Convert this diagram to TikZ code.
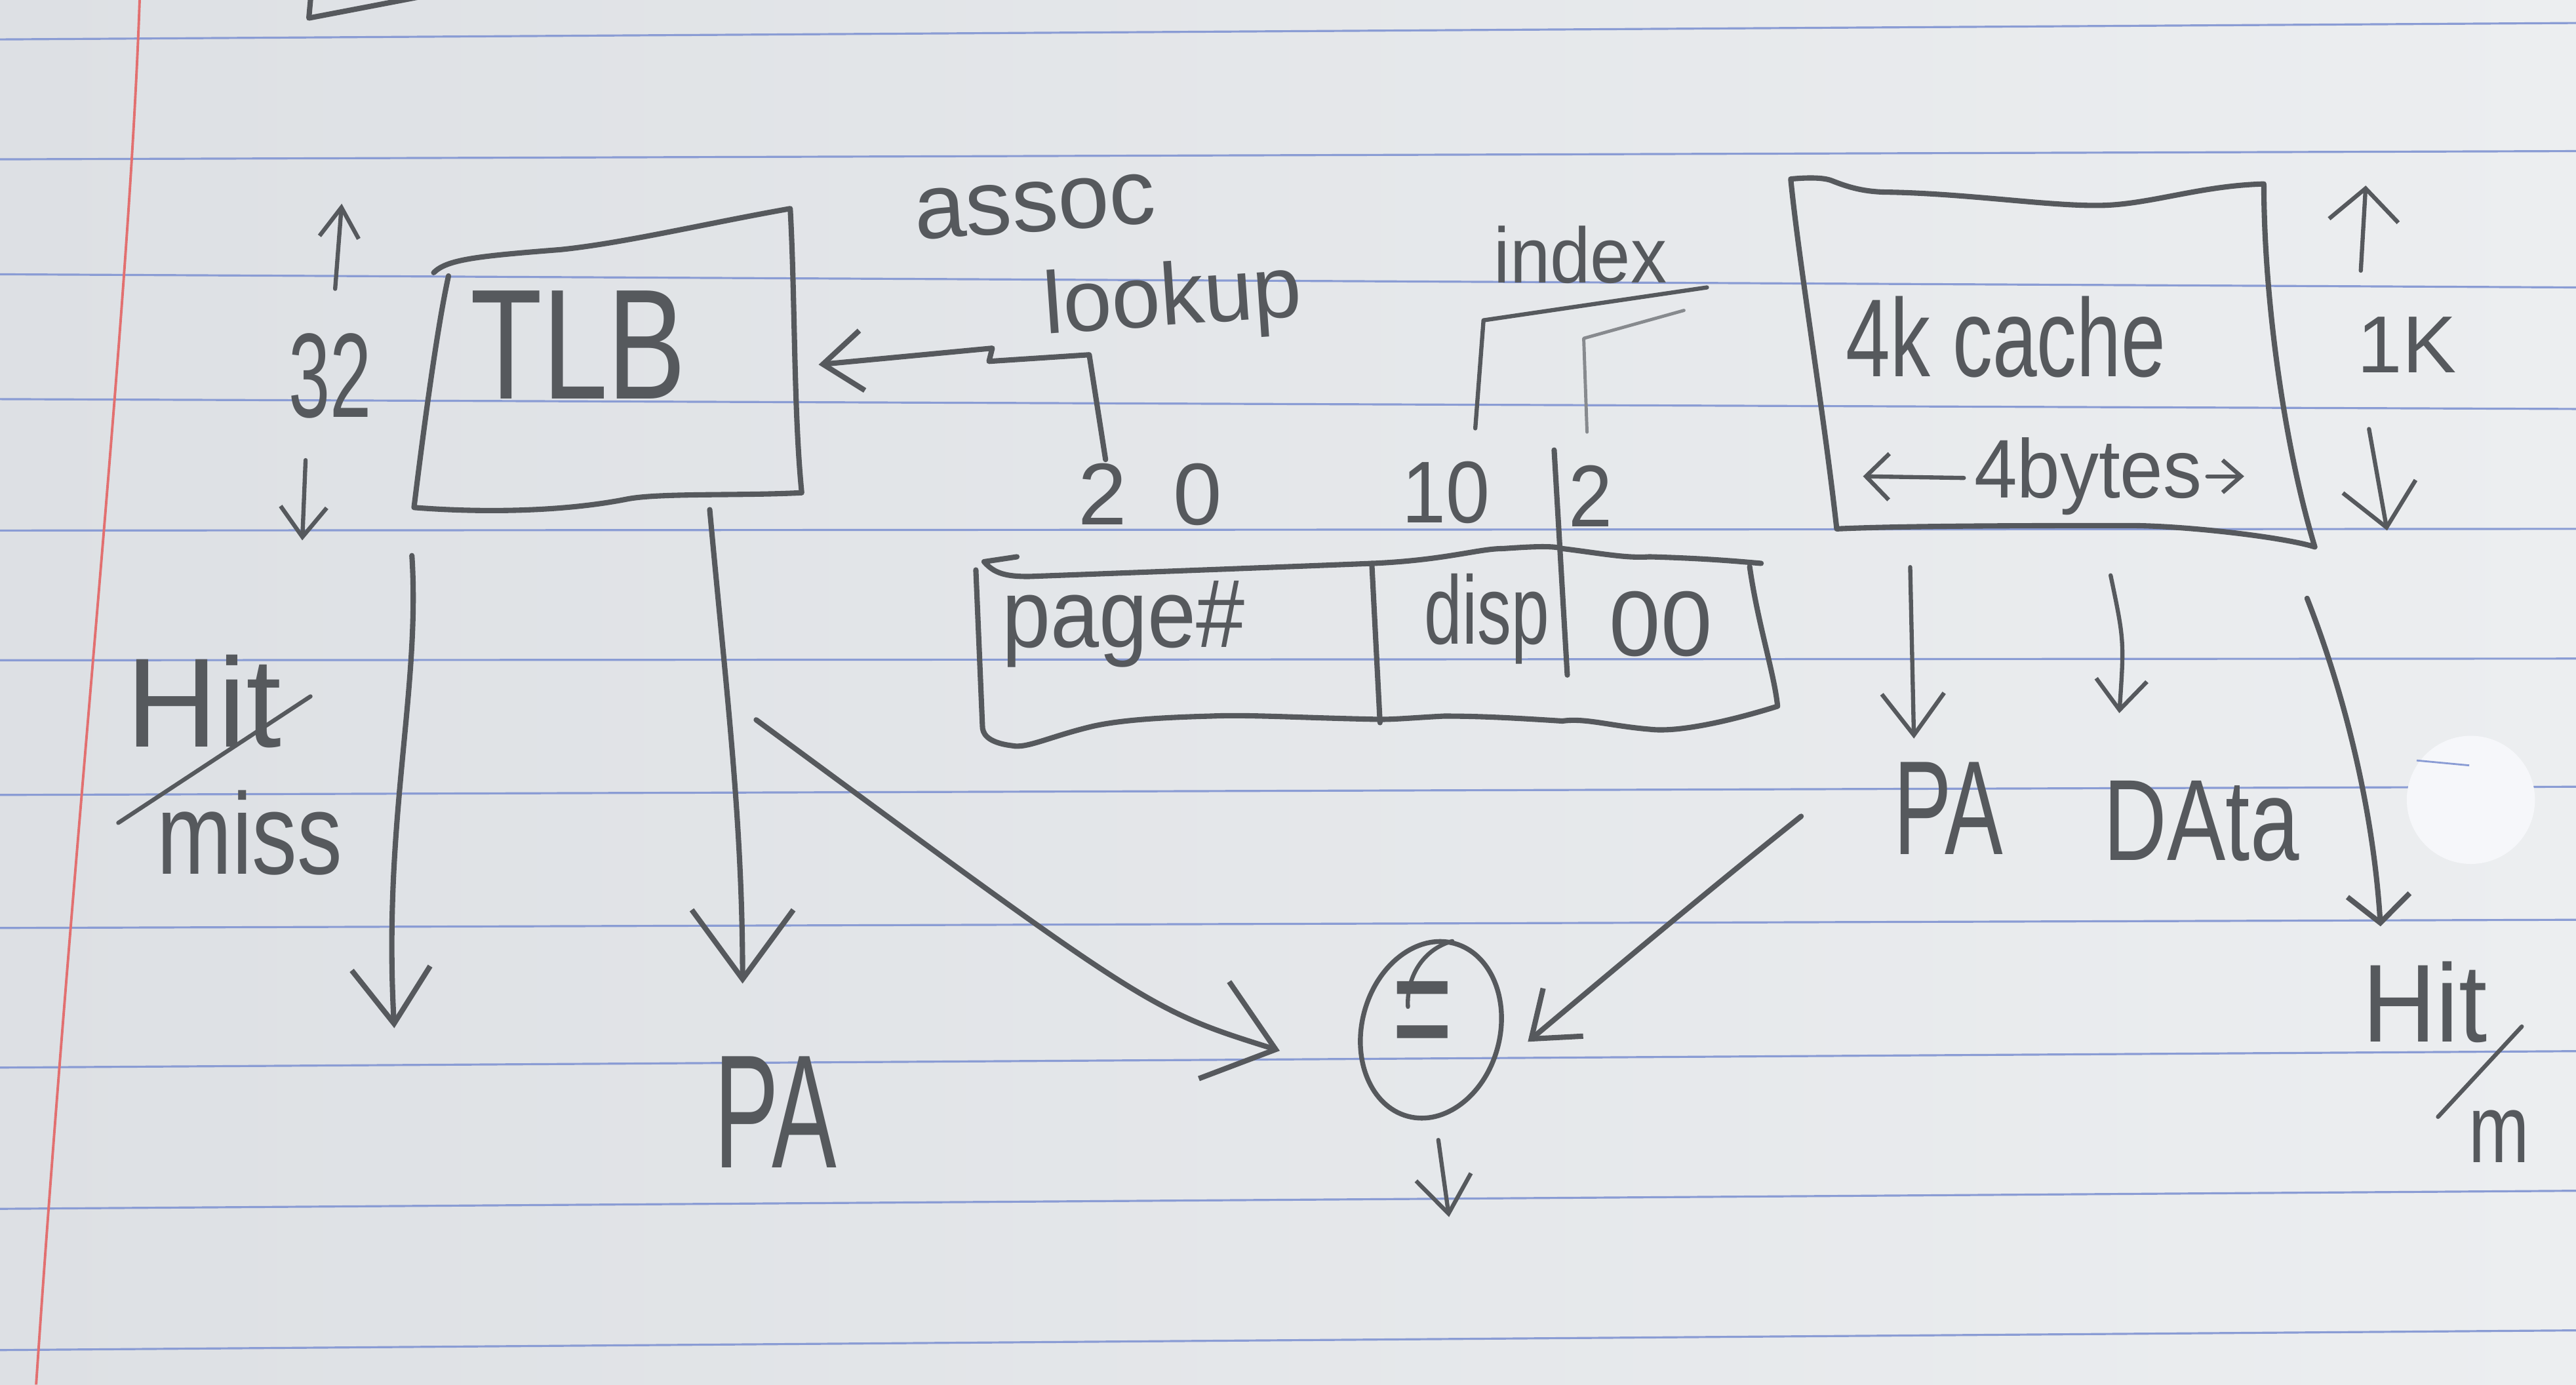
\documentclass[tikz,border=0pt]{standalone}
\usepackage{fontspec}
\setmainfont{Liberation Sans}
\usepackage{graphicx}
\usetikzlibrary{arrows.meta,shapes.geometric,calc}
\definecolor{paperL}{RGB}{221,224,228}
\definecolor{paperR}{RGB}{236,238,240}
\definecolor{rulec}{RGB}{138,156,212}
\definecolor{marginc}{RGB}{226,112,112}
\definecolor{pencil}{RGB}{86,89,93}
\definecolor{pencilL}{RGB}{135,138,142}
\definecolor{holec}{RGB}{246,247,250}
\newcommand{\hw}[3]{\scalebox{#1}[1]{\fontsize{#2}{#2}\selectfont #3}}
\begin{document}
\begin{tikzpicture}[x=0.25mm,y=-0.25mm,
  pen/.style={draw=pencil,line width=2.3pt,line cap=round,line join=round},
  thinpen/.style={draw=pencil,line width=1.8pt,line cap=round,line join=round},
  faintpen/.style={draw=pencilL,line width=1.4pt,line cap=round,line join=round},
  V/.style 2 args={-{Straight Barb[length=#1,width=#2]}},
  lbl/.style={text=pencil,inner sep=0pt},
  ruled/.style={draw=rulec,line width=0.9pt},
  area/.style 2 args={inner sep=0pt,minimum width=#1,minimum height=#2}]
\useasboundingbox (0,0) rectangle (1568,843);
% paper
\shade[left color=paperL,right color=paperR] (0,0) rectangle (1568,843);
\foreach \a/\b in {24/14,97/92,167/175,243/249,323/322,402/401,484/479,565/560,650/640,736/725,822/810}
  \draw[ruled] (0,\a) -- (1568,\b);
\draw[draw=marginc,line width=1.1pt] (85,0) .. controls (78,200) and (45,500) .. (22,843);
\fill[holec] (1504,487) circle[radius=39];
\draw[rulec,line width=0.8pt] (1471,463) -- (1503,466);
\draw[pen] (189,0) -- (188,11) -- (256,-2);

% ---------- TLB ----------
\node[area={57mm}{44mm}] (tlb) at (370,217) {};
\draw[pen] (264,166) .. controls (272,158) and (290,156) .. (341,152)
  .. controls (380,148) and (430,136) .. (481,127)
  .. controls (484,180) and (483,250) .. (488,300)
  .. controls (450,302) and (400,300) .. (381,304)
  .. controls (340,312) and (290,312) .. (252,309)
  .. controls (258,260) and (266,200) .. (273,168);
\node[lbl] (tlblabel) at (352,210) {\hw{0.75}{68pt}{TLB}};
\node[lbl] (n32) at (201,229) {\hw{0.62}{52pt}{32}};
\coordinate (up32) at (208,124);
\coordinate (dn32) at (184,329);
\draw[thinpen,V={13pt}{17pt}] ($(n32.north)+(3,-27)$) -- (up32);
\draw[thinpen,V={13pt}{20pt}] ($(n32.south)+(-15,25)$) -- (dn32);

% ---------- address ----------
\node[lbl,rotate=4] (assoc) at (630,126) {\fontsize{40pt}{40pt}\selectfont assoc};
\node[lbl,rotate=4] (lookup) at (714,184) {\hw{1}{38pt}{lookup}};
\node[lbl] (n20) at (700,301) {\hw{1}{38pt}{2\hspace{20pt}0}};
\node[lbl] (n10) at (880,300) {\hw{0.9}{38pt}{10}};
\node[lbl] (n2) at (968,302) {\hw{0.9}{38pt}{2}};
\node[lbl] (index) at (962,155) {\hw{0.92}{34pt}{index}};
\draw[pen] (619,339) -- (599,342) .. controls (605,349) and (612,351) .. (626,351)
  .. controls (680,349) and (760,346) .. (836,343)
  .. controls (880,341) and (900,334) .. (915,334)
  .. controls (930,333) and (945,332) .. (951,334)
  .. controls (975,337) and (990,340) .. (1004,339)
  .. controls (1040,340) and (1060,342) .. (1072,343);
\draw[pen] (1065,345) .. controls (1070,380) and (1080,410) .. (1082,430)
  .. controls (1050,440) and (1020,446) .. (1004,444)
  .. controls (980,442) and (965,437) .. (951,439)
  .. controls (920,437) and (900,436) .. (879,436)
  .. controls (860,437) and (850,438) .. (840,438)
  .. controls (790,437) and (760,435) .. (737,436)
  .. controls (700,437) and (680,439) .. (666,442)
  .. controls (640,448) and (625,456) .. (616,454)
  .. controls (600,452) and (598,446) .. (598,442) -- (594,347);
\draw[pen] (835,343) -- (840,440);
\draw[pen] (946,274) -- (954,411);
\node[lbl] (page) at (684,380) {\hw{0.9}{42pt}{page\#}};
\node[lbl] (disp) at (905,377) {\hw{0.7}{42pt}{disp}};
\node[lbl] (zz) at (1011,380) {\hw{1}{40pt}{00}};
\draw[pen,V={17pt}{26pt}] ($(n20.north west)+(17,-2)$) -- (663,216) -- (602,220) -- (604,212) -- ($(tlb.east)+(14,5)$);
\coordinate (ix1) at (1039,175);
\coordinate (ix2) at (1025,189);
\draw[thinpen] ($(n10.north)+(18,-20)$) -- (903,195) -- (ix1);
\draw[faintpen] ($(n2.north)+(-2,-20)$) -- (964,206) -- (ix2);

% ---------- cache ----------
\node[area={75mm}{53mm}] (cache) at (1250,220) {};
\draw[pen] (1090,109) .. controls (1100,108) and (1110,108) .. (1115,110)
  .. controls (1125,114) and (1135,117) .. (1150,117)
  .. controls (1200,118) and (1250,126) .. (1281,125)
  .. controls (1310,124) and (1340,113) .. (1378,112)
  .. controls (1378,180) and (1390,270) .. (1409,333)
  .. controls (1390,327) and (1330,320) .. (1296,320)
  .. controls (1250,320) and (1160,320) .. (1118,322)
  .. controls (1110,250) and (1095,160) .. (1090,109);
\node[lbl] (cachelabel) at (1221,205) {\hw{0.72}{48pt}{4k cache}};
\node[lbl] (bytes) at (1271,290) {\hw{0.93}{36pt}{4bytes}};
\coordinate (bl) at (1134,290);
\coordinate (br) at (1366,290);
\draw[thinpen,V={10pt}{20pt}] ($(bytes.west)+(-6,1)$) -- (bl);
\draw[thinpen,V={8pt}{14pt}] ($(bytes.east)+(3,0)$) -- (br);
\node[lbl] (n1k) at (1465,210) {\hw{1}{35pt}{1K}};
\coordinate (up1k) at (1440,113);
\coordinate (dn1k) at (1453,323);
\draw[thinpen,V={14pt}{30pt}] ($(n1k.north)+(-28,-28)$) -- (up1k);
\draw[thinpen,V={18pt}{32pt}] ($(n1k.south)+(-23,34)$) -- (dn1k);
\node[lbl] (cpa) at (1186,492) {\hw{0.65}{58pt}{PA}};
\node[lbl] (data) at (1340,500) {\hw{0.76}{50pt}{DAta}};
\node[lbl] (rhit) at (1476,610) {\hw{0.92}{48pt}{Hit}};
\node[lbl] (rm) at (1521,692) {\hw{0.75}{42pt}{m}};
\draw[thinpen] (1484,680) -- (1535,625);
\draw[thinpen,V={18pt}{27pt}] ($(cache.south west)+(63,19)$) -- ($(cpa.north)+(-21,-14)$);
\draw[thinpen,V={13pt}{22pt}] ($(cache.south west)+(185,24)$) .. controls (1293,390) .. ($(data.north)+(-50,-41)$);
\draw[pen,V={12pt}{27pt}] ($(cache.south east)+(4,38)$) .. controls (1430,430) and (1445,500) .. ($(rhit.north)+(-27,-21)$);

% ---------- left ----------
\node[lbl] (lhit) at (124,427) {\hw{1}{55pt}{Hit}};
\node[lbl] (miss) at (152,507) {\hw{0.78}{50pt}{miss}};
\draw[thinpen] (72,501) -- (189,424);
\coordinate (hmout) at (240,626);
\draw[pen,V={24pt}{34pt}] ($(tlb.south west)+(-5,33)$) .. controls (256,420) and (233,500) .. (hmout);
\node[lbl] (pa) at (472,677) {\hw{0.6}{70pt}{PA}};
\draw[pen,V={30pt}{44pt}] ($(tlb.south)+(62,5)$) .. controls (442,420) and (452,500) .. ($(pa.north)+(-20,-44)$);

% ---------- comparator ----------
\node[draw=pencil,line width=2.1pt,ellipse,minimum width=21mm,minimum height=27.25mm,rotate=-15,inner sep=0pt] (cmp) at (871,627) {};
\node[lbl] (eq) at (866,624) {\scalebox{1}[1.7]{\fontsize{45pt}{45pt}\selectfont =}};
\draw[thinpen] (857,613) .. controls (856,595) and (866,578) .. (884,573);
\draw[pen,V={28pt}{44pt}] ($(tlb.south east)+(-24,133)$) .. controls (700,615) .. ($(cmp.west)+(-50,24)$);
\draw[pen,V={18pt}{27pt}] ($(cpa.west)+(-56,5)$) .. controls (1030,550) and (965,605) .. ($(cmp.east)+(17,-4)$);
\coordinate (cmpout) at (882,741);
\draw[thinpen,V={16pt}{24pt}] ($(cmp.south)+(19,13)$) -- (cmpout);
\end{tikzpicture}
\end{document}
